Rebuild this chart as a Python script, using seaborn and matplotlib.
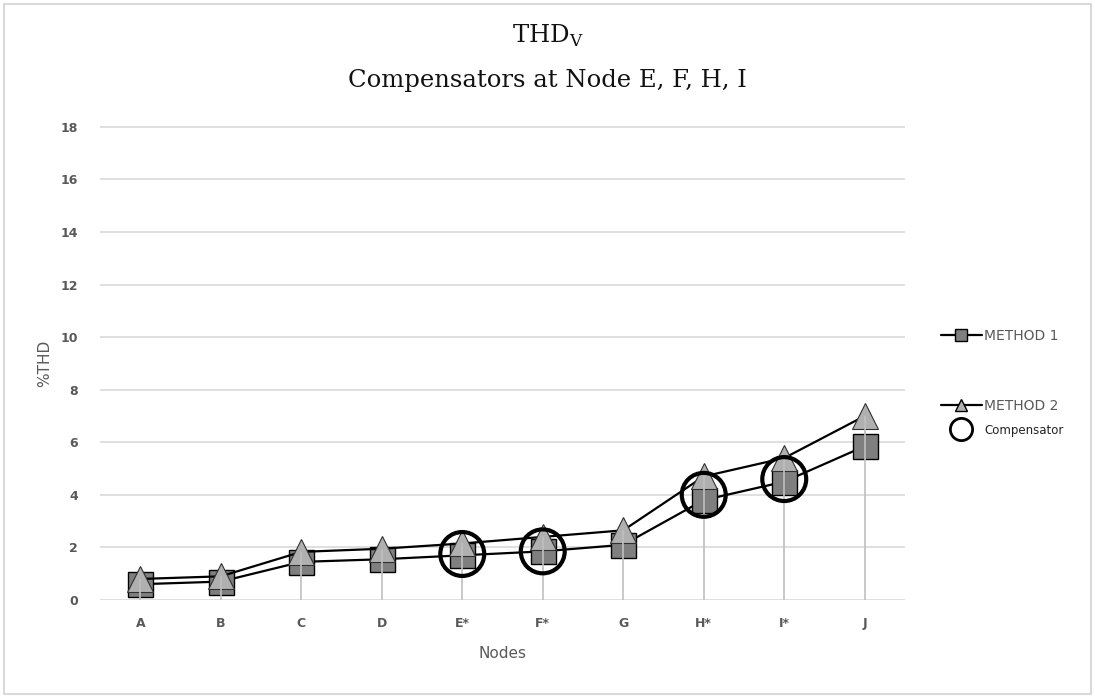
import matplotlib
matplotlib.use("Agg")
import matplotlib.pyplot as plt
from matplotlib.lines import Line2D
from matplotlib.patches import Rectangle
import seaborn as sns
import pandas as pd
import numpy as np

nodes = ["A", "B", "C", "D", "E*", "F*", "G", "H*", "I*", "J"]
method1 = [0.6, 0.7, 1.45, 1.55, 1.7, 1.85, 2.1, 3.8, 4.5, 5.85]
method2 = [0.8, 0.9, 1.83, 1.95, 2.15, 2.4, 2.65, 4.7, 5.4, 7.0]
comp_nodes = ["E*", "F*", "H*", "I*"]
comp_values = [1.75, 1.85, 4.0, 4.6]
y_ticks = [0, 2, 4, 6, 8, 10, 12, 14, 16, 18]

sns.set_theme(style="white")
plt.rcParams['font.family'] = ['DejaVu Sans']

fig = plt.figure(figsize=(10.95, 6.98), dpi=100)
ax = fig.add_axes([100/1095, 1-600/698, 805/1095, 474/698])

df1 = pd.DataFrame({"node": nodes, "v": method1})
df2 = pd.DataFrame({"node": nodes, "v": method2})
dfc = pd.DataFrame({"node": comp_nodes, "v": comp_values})

pos = {n: i for i, n in enumerate(nodes)}
df1["x"] = df1["node"].map(pos)
df2["x"] = df2["node"].map(pos)
dfc["x"] = dfc["node"].map(pos)

sns.lineplot(data=df1, x="x", y="v", ax=ax, color="black", linewidth=1.6,
             marker="s", markersize=18, markerfacecolor="#7f7f7f",
             markeredgecolor="black", markeredgewidth=1.0, zorder=3)
sns.lineplot(data=df2, x="x", y="v", ax=ax, color="black", linewidth=1.6,
             marker="^", markersize=19, markerfacecolor="#b0b0b0",
             markeredgecolor="#303030", markeredgewidth=0.8, zorder=4)

# drop lines
top = np.maximum(df1["v"].values, df2["v"].values)
ax.vlines(df1["x"].values, 0, top, colors="#bfbfbf", linewidth=1.2, zorder=5)

sns.scatterplot(data=dfc, x="x", y="v", ax=ax, s=1000, facecolors="none",
                edgecolor="black", linewidth=3, zorder=6, legend=False)

ax.set_xlim(-0.5, len(nodes) - 0.5)
ax.set_ylim(0, 18.03)
ax.set_yticks(y_ticks)
ax.set_xticks(range(len(nodes)))
ax.set_xticklabels(nodes)
ax.yaxis.grid(True, color="#d9d9d9", linewidth=1.2)
ax.xaxis.grid(False)
ax.set_axisbelow(True)
for s in ax.spines.values():
    s.set_visible(False)
ax.tick_params(axis="both", length=0, labelsize=9, labelcolor="#595959", pad=16)
for lbl in ax.get_xticklabels() + ax.get_yticklabels():
    lbl.set_fontweight("bold")
ax.tick_params(axis="x", pad=12)
ax.set_xlabel("Nodes", fontsize=11, color="#595959", labelpad=12)
ax.set_ylabel("%THD", fontsize=11, color="#595959", labelpad=2)
ax.yaxis.set_label_coords(-0.06, 0.5)

fig.text(0.5, 1-36/698, r"THD$_\mathregular{V}$", ha="center", va="center",
         fontsize=17.5, family="DejaVu Serif", color="#111111")
fig.text(0.5, 1-80/698, "Compensators at Node E, F, H, I", ha="center", va="center",
         fontsize=17.5, family="DejaVu Serif", color="#111111")

h1 = Line2D([], [], color="black", linewidth=1.6, marker="s", markersize=9,
            markerfacecolor="#7f7f7f", markeredgecolor="black")
h2 = Line2D([], [], color="black", linewidth=1.6, marker="^", markersize=8,
            markerfacecolor="#b0b0b0", markeredgecolor="black")
h3 = Line2D([], [], color="none", marker="o", markersize=16,
            markerfacecolor="none", markeredgecolor="black", markeredgewidth=2)
leg1 = fig.legend([h1], ["METHOD 1"], loc="center left",
                  bbox_to_anchor=(928/1095, 1-336/698), frameon=False,
                  handlelength=3.0, handletextpad=0.15, prop={"size": 10})
for t in leg1.get_texts():
    t.set_color("#595959")
leg2 = fig.legend([h2, h3], ["METHOD 2", "Compensator"], loc="upper left",
                  bbox_to_anchor=(928/1095, 1-386/698), frameon=False,
                  handlelength=3.0, handletextpad=0.15, labelspacing=0.8,
                  prop={"size": 10})
texts = leg2.get_texts()
texts[0].set_color("#595959")
texts[1].set_fontsize(8.5)
texts[1].set_color("#222222")

fig.patches.append(Rectangle((4/1095, 4/698), 1087/1095, 690/698,
                             transform=fig.transFigure, fill=False,
                             edgecolor="#d9d9d9", linewidth=1.5))

fig.savefig("out.png", dpi=100)
